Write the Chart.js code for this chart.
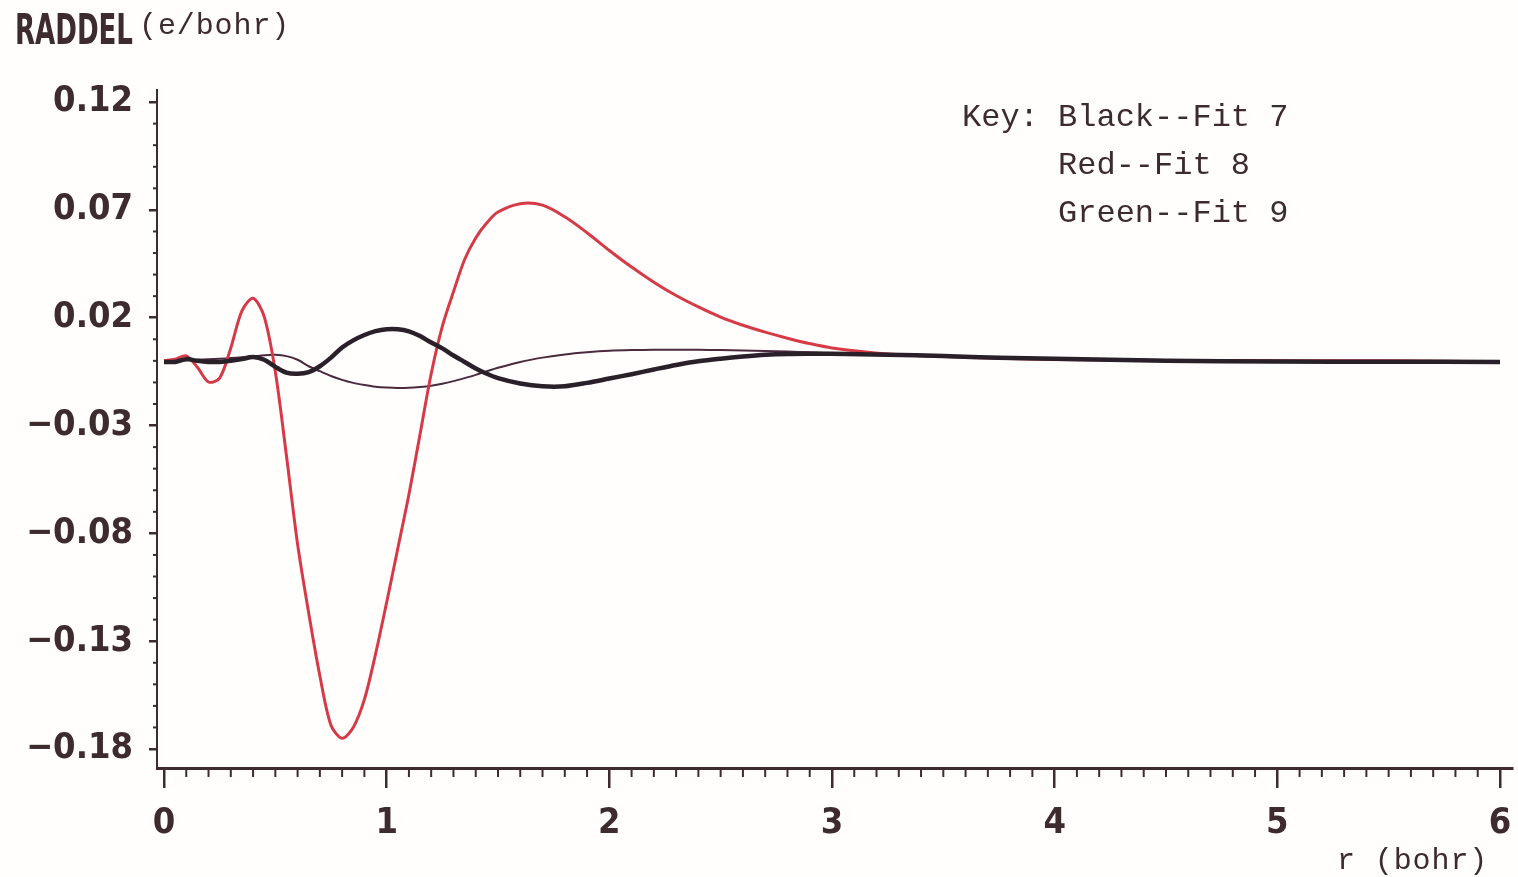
<!DOCTYPE html>
<html>
<head>
<meta charset="utf-8">
<title>RADDEL</title>
<script src="https://cdn.jsdelivr.net/npm/chart.js@4.4.1/dist/chart.umd.min.js"></script>
<style>
  html, body { margin: 0; padding: 0; background: #fffefc; }
  #wrap { position: relative; width: 1518px; height: 877px; overflow: hidden; }
  #chart { position: absolute; left: 0; top: 0; }
  .txt { position: absolute; color: #3d2b2e; white-space: pre; }
  .mono { font-family: "Liberation Mono", "DejaVu Sans Mono", monospace; }
  #raddel {
    left: 15px; top: 9px; font-family: "DejaVu Sans Condensed", "DejaVu Sans", sans-serif;
    font-weight: bold; font-size: 42px; line-height: 42px; transform-origin: 0 0; transform: scaleX(0.69);
  }
  #yunit { left: 139px; top: 11px; font-size: 30px; line-height: 30px; letter-spacing: 0.9px; }
  #key { left: 962px; top: 94px; font-size: 32px; line-height: 48px; }
  #xunit { left: 1337px; top: 846px; font-size: 30px; line-height: 30px; letter-spacing: 0.9px; }
</style>
</head>
<body>
<div id="wrap">
  <canvas id="chart" width="1518" height="877"></canvas>
  <div class="txt" id="raddel">RADDEL</div>
  <div class="txt mono" id="yunit">(e/bohr)</div>
  <div class="txt mono" id="key">Key: Black--Fit 7
     Red--Fit 8
     Green--Fit 9</div>
  <div class="txt mono" id="xunit">r (bohr)</div>
</div>
<script>
// r grid (bohr)
const rValues = [0, 0.05, 0.1, 0.15, 0.2, 0.25, 0.3, 0.35, 0.4, 0.45, 0.5, 0.55, 0.6, 0.65, 0.7, 0.75,
  0.8, 0.85, 0.9, 0.95, 1.0, 1.05, 1.1, 1.15, 1.2, 1.25, 1.3, 1.35, 1.4, 1.45, 1.5,
  1.6, 1.7, 1.8, 1.9, 2.0, 2.1, 2.2, 2.3, 2.4, 2.5, 2.6, 2.7, 2.8, 2.9, 3.0,
  3.25, 3.5, 3.75, 4.0, 4.5, 5.0, 5.5, 6.0];

// Black -- Fit 7
const fit7 = [-0.0005, -0.0005, 0.0008, 0.0, -0.0005, -0.0005, 0.0, 0.0008, 0.0018, 0.0005, -0.0028, -0.0055,
  -0.006, -0.0052, -0.0025, 0.0015, 0.0062, 0.0095, 0.012, 0.0138, 0.0147, 0.0147, 0.0137, 0.0115, 0.0085,
  0.0058, 0.0025, -0.0005, -0.0035, -0.006, -0.008,
  -0.0105, -0.0118, -0.0118, -0.0102, -0.0082, -0.0062, -0.0040, -0.0019, -0.0002, 0.001, 0.002, 0.0028, 0.0032,
  0.0033, 0.0033,
  0.0028, 0.0023, 0.0014, 0.001, 0.0, -0.0003, -0.0004, -0.0005];

// Red -- Fit 8
const fit8 = [0.0, 0.0008, 0.0023, -0.003, -0.0098, -0.008, 0.006, 0.0232, 0.029, 0.0205, -0.005, -0.044,
  -0.085, -0.117, -0.146, -0.169, -0.175, -0.17, -0.157, -0.136, -0.112, -0.087, -0.062, -0.034, -0.006,
  0.016, 0.032, 0.047, 0.057, 0.064, 0.069,
  0.0729, 0.0722, 0.0668, 0.0594, 0.0512, 0.0435, 0.0365, 0.0303, 0.0250, 0.0203, 0.0165, 0.0133, 0.0105, 0.0080,
  0.0060,
  0.0032, 0.002, 0.0012, 0.0006, 0.0002, 0.0001, 0.0, -0.0005];

// Green -- Fit 9
const fit9 = [0.0, 0.0, 0.0003, 0.0005, 0.0008, 0.001, 0.0013, 0.0017, 0.0021, 0.0026, 0.0028, 0.0022,
  0.0005, -0.0025, -0.0048, -0.007, -0.0088, -0.0102, -0.0112, -0.012, -0.0124, -0.0126, -0.0125, -0.0121,
  -0.0115, -0.0106, -0.0094, -0.008, -0.0065, -0.0048, -0.0032,
  -0.0005, 0.0015, 0.003, 0.004, 0.0047, 0.005, 0.0051, 0.0051, 0.0051, 0.005, 0.0048, 0.0046, 0.0043,
  0.004, 0.0036,
  0.0028, 0.002, 0.0013, 0.0008, 0.0002, -0.0002, -0.0004, -0.0005];

const xTickValues = [0, 1, 2, 3, 4, 5, 6];
const yTickValues = [-0.18, -0.13, -0.08, -0.03, 0.02, 0.07, 0.12];

const ink = "#3d2b2e";
const tickFont = { family: "'DejaVu Sans Condensed', 'DejaVu Sans', sans-serif", size: 36, weight: "bold" };

function toPoints(values) {
  return rValues.map((r, i) => ({ x: r, y: values[i] }));
}

function formatY(value) {
  return value.toFixed(2).replace("-", "\u2212");
}

// small ticks between the labelled ones, drawn from the chart scales
const minorTicks = {
  id: "minorTicks",
  afterDraw(chart) {
    const { ctx } = chart;
    const x = chart.scales.x;
    const y = chart.scales.y;
    ctx.save();
    ctx.strokeStyle = ink;
    ctx.lineWidth = 2;
    for (let i = 1; i < 60; i++) {
      if (i % 10 === 0) continue;
      const px = x.getPixelForValue(i / 10);
      ctx.beginPath();
      ctx.moveTo(px, x.top);
      ctx.lineTo(px, x.top + 9);
      ctx.stroke();
    }
    for (let i = -18; i <= 12; i++) {
      if ((i + 18) % 5 === 0) continue;
      const py = y.getPixelForValue(i / 100);
      ctx.beginPath();
      ctx.moveTo(y.right, py);
      ctx.lineTo(y.right - 4, py);
      ctx.stroke();
    }
    ctx.restore();
  }
};

new Chart(document.getElementById("chart"), {
  type: "line",
  data: {
    datasets: [
      {
        label: "Black--Fit 7",
        data: toPoints(fit7),
        borderColor: "#2a2029",
        borderWidth: 4.5,
        pointRadius: 0,
        tension: 0.3
      },
      {
        label: "Red--Fit 8",
        data: toPoints(fit8),
        borderColor: "#d63a47",
        borderWidth: 3,
        pointRadius: 0,
        tension: 0.3
      },
      {
        label: "Green--Fit 9",
        data: toPoints(fit9),
        borderColor: "#4a2a3c",
        borderWidth: 2,
        pointRadius: 0,
        tension: 0.3
      }
    ]
  },
  options: {
    responsive: false,
    animation: false,
    layout: { padding: { left: 0, right: 6, top: 90, bottom: 0 } },
    plugins: { legend: { display: false }, tooltip: { enabled: false } },
    scales: {
      x: {
        type: "linear",
        min: -0.0314,
        max: 6.054,
        afterFit: (scale) => {
          scale.height = 109;
          scale.paddingLeft = 0;
          scale.paddingRight = 0;
        },
        afterBuildTicks: (scale) => { scale.ticks = xTickValues.map((v) => ({ value: v })); },
        border: { display: true, color: ink, width: 3 },
        grid: { drawOnChartArea: false, drawTicks: true, tickLength: 20, color: ink, lineWidth: 2.5 },
        ticks: { color: ink, font: tickFont, padding: 14, maxRotation: 0, callback: (v) => String(v) }
      },
      y: {
        min: -0.1888,
        max: 0.1256,
        afterFit: (scale) => {
          scale.width = 157;
          scale.paddingTop = 0;
          scale.paddingBottom = 0;
        },
        afterBuildTicks: (scale) => { scale.ticks = yTickValues.map((v) => ({ value: v })); },
        border: { display: true, color: ink, width: 2, dash: [6, 3] },
        grid: { drawOnChartArea: false, drawTicks: true, tickLength: 8, color: ink, lineWidth: 2.5 },
        ticks: { color: ink, font: tickFont, padding: 16, callback: (v) => formatY(v) }
      }
    }
  },
  plugins: [minorTicks]
});
</script>
</body>
</html>
